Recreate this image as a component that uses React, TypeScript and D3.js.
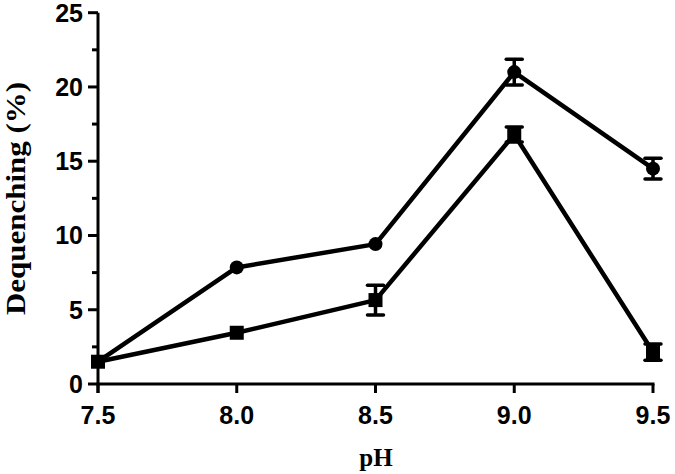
import React from "react";
import * as d3 from "d3";

const phValues = [7.5, 8.0, 8.5, 9.0, 9.5];
const circleMeans = [1.5, 7.85, 9.42, 21.0, 14.5];
const circleErrors = [0, 0, 0, 0.87, 0.7];
const squareMeans = [1.5, 3.45, 5.65, 16.8, 2.15];
const squareErrors = [0, 0, 1.0, 0.5, 0.55];
const xTicks = [7.5, 8.0, 8.5, 9.0, 9.5];
const yTicks = [0, 5, 10, 15, 20, 25];
const yMinorTicks = [2.5, 7.5, 12.5, 17.5, 22.5];

const W = 675;
const H = 474;
const left = 98;
const right = 653;
const top = 12.7;
const bottom = 384;

export default function App() {
  const x = d3.scaleLinear().domain([7.5, 9.5]).range([left, right]);
  const y = d3.scaleLinear().domain([0, 25]).range([bottom, top]);
  const line = d3
    .line<number>()
    .x((_, i) => x(phValues[i]))
    .y((d) => y(d));

  const errorBars = (means: number[], errs: number[], key: string) =>
    means.map((m, i) =>
      errs[i] > 0 ? (
        <g key={key + i} stroke="#000" strokeWidth={3.5}>
          <line x1={x(phValues[i])} x2={x(phValues[i])} y1={y(m - errs[i])} y2={y(m + errs[i])} />
          <line x1={x(phValues[i]) - 8} x2={x(phValues[i]) + 8} y1={y(m - errs[i])} y2={y(m - errs[i])} strokeLinecap="round" />
          <line x1={x(phValues[i]) - 8} x2={x(phValues[i]) + 8} y1={y(m + errs[i])} y2={y(m + errs[i])} strokeLinecap="round" />
        </g>
      ) : null
    );

  const tickFont = "'Liberation Sans', Arial, sans-serif";
  const titleFont = "'Liberation Serif', 'Times New Roman', serif";

  return (
    <svg width={W} height={H} style={{ position: "absolute", left: 0, top: 0, background: "#fff" }}>
      <rect width={W} height={H} fill="#fff" />
      {/* axes */}
      <line x1={left} x2={left} y1={top} y2={bottom + 9} stroke="#000" strokeWidth={3} />
      <line x1={left - 1.5} x2={right + 1.5} y1={bottom} y2={bottom} stroke="#000" strokeWidth={3} />
      {yTicks.map((t) => (
        <g key={"yt" + t}>
          <line x1={left - 10} x2={left} y1={y(t)} y2={y(t)} stroke="#000" strokeWidth={3} />
          <text x={left - 15} y={y(t)} dy="0.36em" textAnchor="end" fontFamily={tickFont} fontWeight="bold" fontSize={25} fill="#000">
            {t}
          </text>
        </g>
      ))}
      {yMinorTicks.map((t) => (
        <line key={"ym" + t} x1={left - 6} x2={left} y1={y(t)} y2={y(t)} stroke="#000" strokeWidth={3} />
      ))}
      {xTicks.map((t) => (
        <g key={"xt" + t}>
          <line x1={x(t)} x2={x(t)} y1={bottom} y2={bottom + 9} stroke="#000" strokeWidth={3} />
          <text x={x(t)} y={424} textAnchor="middle" fontFamily={tickFont} fontWeight="bold" fontSize={25} fill="#000">
            {t.toFixed(1)}
          </text>
        </g>
      ))}
      <text x={376} y={466} textAnchor="middle" fontFamily={titleFont} fontWeight="bold" fontSize={25} fill="#000">
        pH
      </text>
      <text
        transform={`translate(25, 198.5) rotate(-90)`}
        textAnchor="middle"
        fontFamily={titleFont}
        fontWeight="bold"
        fontSize={28}
        textLength={233}
        lengthAdjust="spacingAndGlyphs"
        fill="#000"
      >
        Dequenching (%)
      </text>
      {/* lines */}
      <path d={line(circleMeans) || ""} fill="none" stroke="#000" strokeWidth={4.5} strokeLinejoin="round" />
      <path d={line(squareMeans) || ""} fill="none" stroke="#000" strokeWidth={4.5} strokeLinejoin="round" />
      {errorBars(circleMeans, circleErrors, "ce")}
      {errorBars(squareMeans, squareErrors, "se")}
      {circleMeans.map((m, i) =>
        i === 0 ? null : <circle key={"c" + i} cx={x(phValues[i])} cy={y(m)} r={7} fill="#000" />
      )}
      {squareMeans.map((m, i) => (
        <rect key={"s" + i} x={x(phValues[i]) - 7} y={y(m) - 7} width={14} height={14} fill="#000" />
      ))}
    </svg>
  );
}
